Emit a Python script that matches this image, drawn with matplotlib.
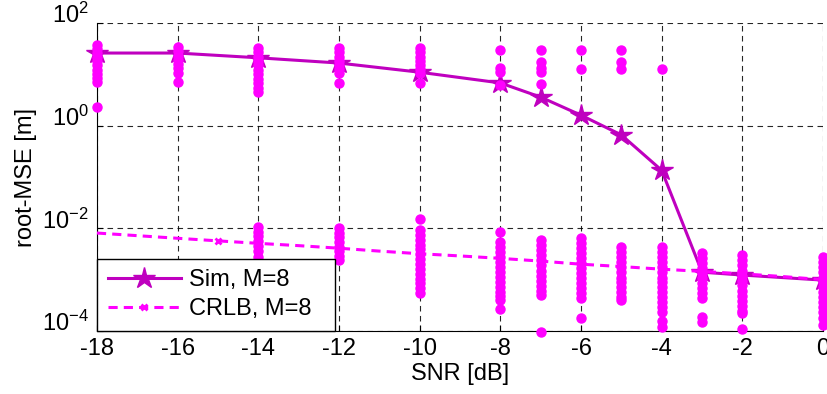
import matplotlib
matplotlib.use("Agg")
import matplotlib.pyplot as plt
import matplotlib.transforms as mtrans
from matplotlib.ticker import FixedLocator, NullLocator, LogFormatterMathtext

plt.rcParams['font.family'] = ['Liberation Sans', 'DejaVu Sans']
plt.rcParams['mathtext.default'] = 'regular'
plt.rcParams['axes.unicode_minus'] = False

# simulated root-MSE (line with stars)
sim_snr = [-18, -16, -14, -12, -10, -8, -7, -6, -5, -4, -3, -2, 0]
sim_rmse = [26, 26, 21, 16.6, 11, 6.8, 3.6, 1.6, 0.66, 0.135, 1.4e-3, 1.23e-3, 9.8e-4]

# CRLB (dashed)
crlb_snr = [-18, -17, -16, -15, -14, -13, -12, -11, -10, -9, -8, -7, -6, -5, -4, -3, -2, -1, 0]
crlb_rmse = [8.1e-3, 7.2e-3, 6.4e-3, 5.7e-3, 5.1e-3, 4.6e-3, 4.1e-3, 3.6e-3, 3.2e-3, 2.9e-3,
             2.6e-3, 2.3e-3, 2.0e-3, 1.8e-3, 1.6e-3, 1.45e-3, 1.3e-3, 1.15e-3, 1.0e-3]
crlb_marks = [3, 8, 13, 18]

# individual trial errors (dots), per SNR
dot_snr = [-18, -16, -14, -12, -10, -8, -7, -6, -5, -4, -3, -2, 0]
dots_hi = [
    [37, 31, 26, 22, 18, 15, 12, 10, 8.5, 7.1, 2.3],
    [34, 28, 23, 19, 16, 13, 10.6, 7.2],
    [32, 27, 22, 18, 15, 12, 10, 8.2, 6.7, 5.5, 4.5],
    [32, 27, 22, 18, 15, 12.5, 10.5, 6.8],
    [32, 27, 22, 18, 15, 12.5, 10.5, 6.8],
    [30, 13.3, 11, 6.2],
    [30, 17.4, 13.3, 11, 6.5],
    [30, 12.6],
    [30, 17.4, 12.6],
    [12.6],
    [], [], [],
]
dots_lo = [
    [],
    [],
    [1.05e-2, 8.5e-3, 7e-3, 5.7e-3, 4.6e-3, 3.7e-3, 2.75e-3],
    [1.0e-2, 8.2e-3, 6.7e-3, 5.4e-3, 4.4e-3, 3.6e-3, 2.9e-3, 2.4e-3],
    [1.5e-2, 9.3e-3, 7.5e-3, 6e-3, 4.8e-3, 3.9e-3, 3.1e-3, 2.5e-3, 2e-3, 1.6e-3,
     1.3e-3, 1.05e-3, 8.5e-4, 6.8e-4, 5.5e-4],
    [8.5e-3, 5.4e-3, 4.4e-3, 3.5e-3, 2.8e-3, 2.2e-3, 1.8e-3, 1.4e-3, 1.15e-3, 9e-4,
     7.2e-4, 5.8e-4, 4.7e-4, 4e-4, 2.7e-4],
    [5.9e-3, 4.8e-3, 3.8e-3, 3e-3, 2.4e-3, 1.9e-3, 1.5e-3, 1.2e-3, 9.5e-4, 7.6e-4,
     6.1e-4, 5e-4, 9.5e-5],
    [6.5e-3, 5.2e-3, 4.1e-3, 3.3e-3, 2.6e-3, 2.1e-3, 1.7e-3, 1.35e-3, 1.07e-3, 8.5e-4,
     6.8e-4, 5.5e-4, 4.4e-4, 1.8e-4],
    [4.3e-3, 3.5e-3, 2.8e-3, 2.2e-3, 1.8e-3, 1.4e-3, 1.1e-3, 9e-4, 7.2e-4, 5.7e-4,
     4.6e-4, 4e-4],
    [4.3e-3, 3.5e-3, 2.8e-3, 2.2e-3, 1.8e-3, 1.4e-3, 1.1e-3, 9e-4, 7.2e-4, 5.7e-4,
     4.5e-4, 3.6e-4, 2.9e-4, 2.3e-4, 1.6e-4, 1.2e-4],
    [3.3e-3, 2.6e-3, 2.1e-3, 1.7e-3, 1.35e-3, 1.07e-3, 8.5e-4, 6.8e-4, 5.4e-4, 4.3e-4,
     1.9e-4, 1.5e-4],
    [3e-3, 2.4e-3, 1.9e-3, 1.5e-3, 1.2e-3, 9.6e-4, 7.7e-4, 6.1e-4, 4.9e-4, 3.9e-4,
     3.1e-4, 2.5e-4, 2.2e-4, 1.1e-4],
    [2.8e-3, 2.2e-3, 1.8e-3, 1.4e-3, 1.1e-3, 9e-4, 7.2e-4, 5.7e-4, 4.5e-4, 3.6e-4,
     2.9e-4, 2.3e-4, 1.8e-4, 1.3e-4],
]

xticks = [-18, -16, -14, -12, -10, -8, -6, -4, -2, 0]
yticks = [1e-4, 1e-2, 1e0, 1e2]

fs = 17

fig = plt.figure(figsize=(8.28, 3.94), dpi=100)
ax = fig.add_axes([0.1171, 0.1599, 0.994 - 0.1171, 0.9416 - 0.1599])

sim_line, = ax.plot(sim_snr, sim_rmse, color='#bf00bf', lw=2.2, marker='*', ms=16,
                    mec='#bf00bf', mfc='#bf00bf', clip_on=False, zorder=3, label='Sim, M=8')
crlb_line, = ax.plot(crlb_snr, crlb_rmse, color='#ff00ff', lw=2.2, ls=(0, (3, 2)),
                     marker='x', ms=4, mew=2, markevery=crlb_marks, clip_on=False,
                     zorder=3, label='CRLB, M=8')

for s, hi, lo in zip(dot_snr, dots_hi, dots_lo):
    vals = hi + lo
    ax.plot([s] * len(vals), vals, ls='none', marker='o', ms=6.5, color='#ff00ff',
            mec='#ff00ff', clip_on=False, zorder=4)

ax.set_yscale('log')
ax.set_xlim(-18, 0)
ax.set_ylim(1e-4, 1e2)
ax.xaxis.set_major_locator(FixedLocator(xticks))
ax.yaxis.set_major_locator(FixedLocator(yticks))
ax.yaxis.set_minor_locator(NullLocator())
ax.yaxis.set_major_formatter(LogFormatterMathtext())
ax.tick_params(direction='in', length=4, width=0.8, labelsize=fs, colors='black')
ax.tick_params(axis='x', pad=5)
ax.tick_params(axis='y', pad=6)
# y labels sit a bit above their ticks in the original
off = mtrans.ScaledTranslation(0, 10 / 100, fig.dpi_scale_trans)
for lab in ax.get_yticklabels():
    lab.set_transform(lab.get_transform() + off)

ax.grid(True, color='black', ls=(0, (5, 4)), lw=0.8, alpha=0.85)
ax.spines['top'].set_visible(False)
ax.spines['right'].set_visible(False)

ax.set_xlabel('SNR [dB]', fontsize=fs, labelpad=2)
ax.set_ylabel('root-MSE [m]', fontsize=fs)
ax.yaxis.set_label_coords(-0.082, 0.5)

leg = ax.legend(handles=[sim_line, crlb_line], labels=['Sim, M=8   ', 'CRLB, M=8  '],
                loc='lower left', bbox_to_anchor=(0, 0),
                borderaxespad=0, fontsize=fs, handlelength=3.1, handletextpad=0.35,
                borderpad=0.45, labelspacing=0.3, fancybox=False, framealpha=1,
                edgecolor='black')
leg.get_frame().set_linewidth(1.0)
leg.set_zorder(5)

fig.savefig('out.png', dpi=100)
